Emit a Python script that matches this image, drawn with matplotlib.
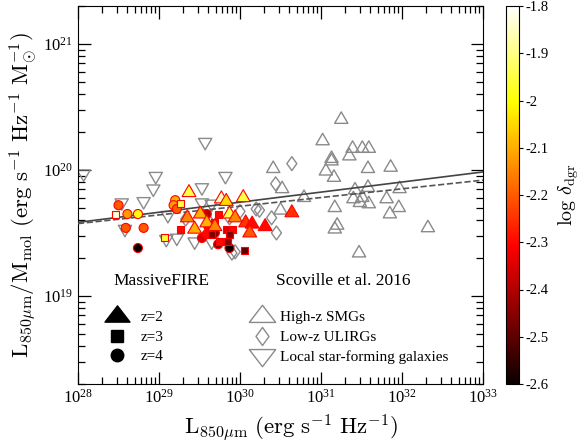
import numpy as np
import matplotlib
matplotlib.use('Agg')
import matplotlib.pyplot as plt
from matplotlib.path import Path
from matplotlib.lines import Line2D
from matplotlib.colors import Normalize

matplotlib.rcParams['font.family'] = ['serif']
matplotlib.rcParams['font.serif'] = ['Liberation Serif', 'DejaVu Serif']
matplotlib.rcParams['mathtext.fontset'] = 'cm'
matplotlib.rcParams['axes.unicode_minus'] = False

# Scoville et al. 2016 -- log L850 and log(L850/Mmol)
smg_lx = [31.25, 31.02, 31.39, 31.51, 31.59, 31.13, 31.13, 31.35, 30.41, 31.06, 31.16,
          31.58, 31.86, 30.52, 30.79, 31.42, 31.58, 31.97, 31.40, 31.51, 31.48, 31.59,
          31.81, 31.96, 31.17, 30.50, 31.85, 31.20, 31.17, 32.32, 31.47]
smg_ly = [20.40, 20.23, 20.17, 20.17, 20.17, 20.09, 20.07, 20.11, 20.01, 19.99, 19.94,
          20.01, 20.02, 19.85, 19.78, 19.84, 19.86, 19.85, 19.77, 19.78, 19.74, 19.73,
          19.77, 19.70, 19.70, 19.68, 19.65, 19.56, 19.53, 19.54, 19.34]

ulirg_lx = [30.64, 30.44, 30.20, 30.24, 30.39, 30.45, 29.90, 29.94, 30.00, 29.87, 29.33, 29.63]
ulirg_ly = [20.05, 19.89, 19.69, 19.68, 19.62, 19.50, 19.34, 19.35, 19.67, 19.62, 19.61, 19.58]

local_lx = [28.07, 28.96, 28.93, 28.54, 28.81, 28.58, 29.11, 29.09, 29.22, 29.57, 29.82,
            29.53, 29.53, 29.65, 29.44, 29.65]
local_ly = [19.97, 19.95, 19.85, 19.74, 19.75, 19.53, 19.64, 19.45, 19.46, 20.22, 19.95,
            19.86, 19.74, 19.73, 19.43, 19.43]

# MassiveFIRE: log L850, log(L850/Mmol), log dust-to-gas ratio
z2_lx = [29.37, 29.77, 30.04, 29.87, 29.83, 29.51, 29.35, 29.59, 29.44, 29.94, 30.07,
         30.15, 30.31, 30.64, 30.12, 29.69]
z2_ly = [19.82, 19.77, 19.78, 19.65, 19.75, 19.65, 19.62, 19.58, 19.53, 19.62, 19.58,
         19.57, 19.55, 19.66, 19.50, 19.55]
z2_dgr = [-1.95, -1.85, -1.95, -1.95, -2.05, -2.10, -2.15, -2.10, -2.10, -2.15, -2.25,
          -2.30, -2.30, -2.25, -2.20, -2.15]

z3_lx = [28.46, 29.26, 29.07, 29.27, 29.73, 29.69, 29.83, 29.91, 29.87, 29.75, 30.06, 29.65, 29.85]
z3_ly = [19.65, 19.73, 19.46, 19.53, 19.65, 19.58, 19.53, 19.53, 19.49, 19.43, 19.36, 19.49, 19.43]
z3_dgr = [-1.83, -1.95, -1.97, -2.30, -2.30, -2.30, -2.35, -2.30, -2.45, -2.30, -2.50, -2.45, -2.45]

z4_lx = [28.50, 28.61, 28.74, 28.59, 28.81, 28.74, 29.20, 29.18, 29.22, 29.53, 29.73,
         29.87, 29.59, 29.69, 29.61, 29.59]
z4_ly = [19.72, 19.65, 19.65, 19.54, 19.54, 19.38, 19.76, 19.72, 19.69, 19.46, 19.41,
         19.38, 19.49, 19.50, 19.55, 19.65]
z4_dgr = [-2.20, -2.12, -2.00, -2.20, -2.20, -2.60, -2.10, -2.12, -2.20, -2.35, -2.45,
          -2.60, -2.30, -2.45, -2.30, -2.40]

# power-law fits: log y = a + b*(log x - 28)
fit_solid = (19.584, 0.080)
fit_dashed = (19.574, 0.069)

cbar_ticks = [-2.6, -2.5, -2.4, -2.3, -2.2, -2.1, -2.0, -1.9, -1.8]
cbar_labels = ['-2.6', '-2.5', '-2.4', '-2.3', '-2.2', '-2.1', '-2', '-1.9', '-1.8']

# marker shapes (equilateral triangles, narrow diamond)
tri_up = Path([(-1, -0.577), (1, -0.577), (0, 1.155), (-1, -0.577)], closed=True)
tri_dn = Path([(-1, 0.577), (1, 0.577), (0, -1.155), (-1, 0.577)], closed=True)
diam = Path([(0, 1), (0.72, 0), (0, -1), (-0.72, 0), (0, 1)], closed=True)
# flatter triangles for the legend keys
ltri_up = Path([(-1, -0.45), (1, -0.45), (0, 0.85), (-1, -0.45)], closed=True)
ltri_dn = Path([(-1, 0.45), (1, 0.45), (0, -0.85), (-1, 0.45)], closed=True)

fig = plt.figure(figsize=(5.81, 4.43), dpi=100)
ax = fig.add_axes([78/581, 1-384/443, 405/581, 378/443])
cax = fig.add_axes([506/581, 1-384/443, 13/581, 378/443])

gray = '#8a8a8a'
ax.scatter(10**np.array(smg_lx), 10**np.array(smg_ly), marker=tri_up, s=11**2,
           facecolors='none', edgecolors=gray, linewidths=1.0, zorder=2)
ax.scatter(10**np.array(ulirg_lx), 10**np.array(ulirg_ly), marker=diam, s=10**2,
           facecolors='none', edgecolors=gray, linewidths=1.0, zorder=2)
ax.scatter(10**np.array(local_lx), 10**np.array(local_ly), marker=tri_dn, s=11**2,
           facecolors='none', edgecolors=gray, linewidths=1.0, zorder=2)

xx = np.linspace(28, 33, 50)
ax.plot(10**xx, 10**(fit_solid[0] + fit_solid[1]*(xx-28)), '-', color='#444444', lw=1.2, zorder=3)
ax.plot(10**xx, 10**(fit_dashed[0] + fit_dashed[1]*(xx-28)), '--', color='#555555', lw=1.2, zorder=3)

norm = Normalize(vmin=-2.6, vmax=-1.8)
cmap = plt.get_cmap('hot')
ax.scatter(10**np.array(z4_lx), 10**np.array(z4_ly), c=z4_dgr, cmap=cmap, norm=norm,
           marker='o', s=6.5**2, edgecolors='red', linewidths=0.8, zorder=4)
ax.scatter(10**np.array(z3_lx), 10**np.array(z3_ly), c=z3_dgr, cmap=cmap, norm=norm,
           marker='s', s=5**2, edgecolors='red', linewidths=0.8, zorder=4)
sc = ax.scatter(10**np.array(z2_lx), 10**np.array(z2_ly), c=z2_dgr, cmap=cmap, norm=norm,
                marker=tri_up, s=11.5**2, edgecolors='red', linewidths=0.8, zorder=5)

ax.set_xscale('log')
ax.set_yscale('log')
ax.set_xlim(1e28, 1e33)
ax.set_ylim(2e18, 2e21)
ax.tick_params(which='both', direction='in', top=True, right=True, labelsize=12)
ax.tick_params(which='major', length=9, width=0.9)
ax.tick_params(which='minor', length=5, width=0.9)
ax.set_xlabel(r'$\mathrm{L}_{850\mu\mathrm{m}}\ \mathrm{(erg\ s^{-1}\ Hz^{-1})}$', fontsize=16.5)
ax.xaxis.set_label_coords(0.526, -0.074)
ax.set_ylabel(r'$\mathrm{L}_{850\mu\mathrm{m}}/\mathrm{M}_{\mathrm{mol}}\ \mathrm{(erg\ s^{-1}\ Hz^{-1}\ M_{\odot}^{-1})}$',
              fontsize=16.5, labelpad=2)

# legends
ax.text(0.205, 0.272, 'MassiveFIRE', transform=ax.transAxes, ha='center', va='center', fontsize=12.5)
ax.text(0.654, 0.272, 'Scoville et al. 2016', transform=ax.transAxes, ha='center', va='center', fontsize=12.5)

h1 = [Line2D([], [], ls='', marker=ltri_up, color='k', ms=18),
      Line2D([], [], ls='', marker='s', color='k', ms=9),
      Line2D([], [], ls='', marker='o', color='k', ms=9)]
leg1 = ax.legend(h1, ['z=2', 'z=3', 'z=4'], loc='center left', bbox_to_anchor=(0.067, 0.124),
                 frameon=False, fontsize=11, handlelength=1.5, handletextpad=0.8,
                 labelspacing=0.38, borderpad=0, borderaxespad=0)
ax.add_artist(leg1)
h2 = [Line2D([], [], ls='', marker=ltri_up, mfc='none', mec=gray, ms=19, mew=1.0),
      Line2D([], [], ls='', marker=diam, mfc='none', mec=gray, ms=13, mew=1.0),
      Line2D([], [], ls='', marker=ltri_dn, mfc='none', mec=gray, ms=19, mew=1.0)]
ax.legend(h2, ['High-z SMGs', 'Low-z ULIRGs', 'Local star-forming galaxies'], loc='center left',
          bbox_to_anchor=(0.427, 0.124), frameon=False, fontsize=11, handlelength=1.5,
          handletextpad=0.4, labelspacing=0.38, borderpad=0, borderaxespad=0)

cb = fig.colorbar(sc, cax=cax)
cb.set_ticks(cbar_ticks)
cb.set_ticklabels(cbar_labels)
cb.ax.tick_params(labelsize=10.5, length=3, width=0.8, pad=2)
cb.outline.set_linewidth(0.8)
cb.set_label(r'$\log\,\delta_{\rm dgr}$', fontsize=14.5)
cb.ax.yaxis.set_label_coords(3.85, 0.5)

fig.savefig('out.png', dpi=100)
